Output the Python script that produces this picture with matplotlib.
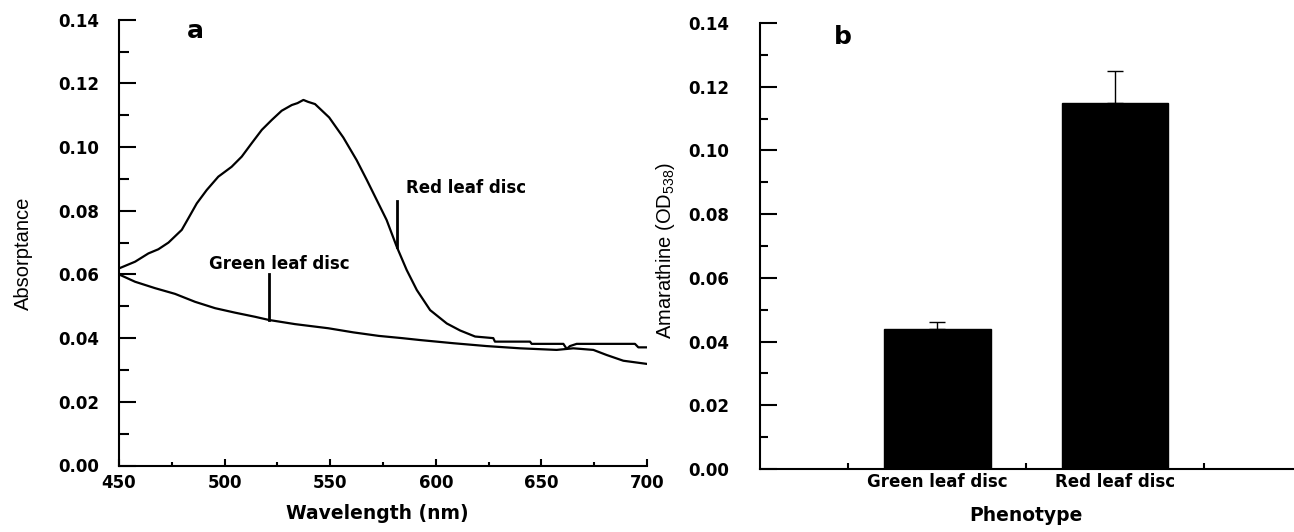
import matplotlib
matplotlib.use('Agg')
import matplotlib.pyplot as plt
from matplotlib.ticker import MultipleLocator, FormatStrFormatter, FixedLocator

# panel a: absorptance spectra
red_nm = [450, 457.6, 463.9, 468.6, 473.4, 479.7, 482.8, 486.8, 491.5, 497.0,
          503.3, 508.1, 512.8, 517.6, 522.3, 527.0, 531.8, 534.5, 537.3, 539.5,
          542.8, 549.5, 556.2, 562.5, 567.3, 572.0, 576.7, 581.5, 586.2, 591.0,
          597.3, 605.2, 611.5, 618.6, 627.2, 628.0, 644.6, 645.4, 660.4, 662.0,
          663.5, 666.7, 694.3, 695.9, 700]
red_abs = [0.0619, 0.0640, 0.0666, 0.0679, 0.0700, 0.0740, 0.0776, 0.0823, 0.0865, 0.0907,
           0.0938, 0.0970, 0.1012, 0.1054, 0.1085, 0.1114, 0.1132, 0.1138, 0.1148, 0.1142,
           0.1135, 0.1093, 0.1030, 0.0959, 0.0897, 0.0834, 0.0771, 0.0687, 0.0614, 0.0551,
           0.0488, 0.0446, 0.0424, 0.0405, 0.0400, 0.0389, 0.0389, 0.0382, 0.0382, 0.0366,
           0.0375, 0.0382, 0.0382, 0.0371, 0.0371]

green_nm = [450, 457.6, 467.0, 476.5, 486.0, 495.5, 504.9, 514.4, 521.0, 533.3,
            549.1, 561.0, 573.0, 584.0, 592.5, 608.3, 624.1, 639.9, 657.2, 665.1,
            674.6, 680.9, 688.8, 700]
green_abs = [0.0600, 0.0577, 0.0557, 0.0539, 0.0514, 0.0494, 0.0480, 0.0467, 0.0457, 0.0444,
             0.0431, 0.0418, 0.0407, 0.0400, 0.0394, 0.0384, 0.0375, 0.0368, 0.0363, 0.0368,
             0.0363, 0.0347, 0.0329, 0.0319]

# panel b: amarathine content
phenotypes = ['Green leaf disc', 'Red leaf disc']
amarathine = [0.044, 0.115]
amarathine_err = [0.002, 0.010]

plt.rcParams['font.family'] = ['DejaVu Sans']
plt.rcParams['font.weight'] = 'bold'
plt.rcParams['mathtext.fontset'] = 'custom'
plt.rcParams['mathtext.rm'] = 'Liberation Sans:weight=normal'
plt.rcParams['mathtext.it'] = 'Liberation Sans:weight=normal'

narrow = ['Liberation Sans Narrow', 'Liberation Sans', 'DejaVu Sans']

fig = plt.figure(figsize=(12.94, 5.32), dpi=100)
ax1 = fig.add_axes([0.092, 0.125, 0.408, 0.838])
ax2 = fig.add_axes([0.587, 0.1184, 0.412, 0.8384])

for ax in (ax1, ax2):
    ax.spines['top'].set_visible(False)
    ax.spines['right'].set_visible(False)
    ax.spines['left'].set_linewidth(1.5)
    ax.spines['bottom'].set_linewidth(1.5)
    ax.set_ylim(0, 0.14)
    ax.yaxis.set_major_locator(MultipleLocator(0.02))
    ax.yaxis.set_minor_locator(MultipleLocator(0.01))
    ax.yaxis.set_major_formatter(FormatStrFormatter('%.2f'))

# ---- panel a ----
ax1.plot(red_nm, red_abs, color='black', linewidth=1.6)
ax1.plot(green_nm, green_abs, color='black', linewidth=1.6)
ax1.set_xlim(450, 700)
ax1.xaxis.set_major_locator(MultipleLocator(50))
ax1.xaxis.set_minor_locator(MultipleLocator(25))
ax1.tick_params(axis='y', which='major', direction='in', length=12, width=1.5,
                labelsize=12, pad=14)
ax1.tick_params(axis='y', which='minor', direction='in', length=7, width=1.5)
ax1.tick_params(axis='x', which='major', direction='in', length=5, width=1.5,
                labelsize=12, pad=6)
ax1.tick_params(axis='x', which='minor', direction='in', length=3, width=1.5)

# pointer lines and labels
ax1.plot([521, 521], [0.0601, 0.0457], color='black', linewidth=2)
ax1.plot([581.5, 581.5], [0.0831, 0.0687], color='black', linewidth=2)
ax1.text(525.7, 0.0633, 'Green leaf disc', ha='center', va='center', fontsize=12)
ax1.text(614.2, 0.0872, 'Red leaf disc', ha='center', va='center', fontsize=12)
ax1.text(0.144, 0.975, 'a', transform=ax1.transAxes, ha='center', va='center',
         fontsize=18)

ax1.set_xlabel('Wavelength (nm)', fontsize=13.5, fontweight='bold')
ax1.xaxis.set_label_coords(0.49, -0.107)
ax1.xaxis.label.set_verticalalignment('center')
ax1.set_ylabel('Absorptance', fontsize=14.5, fontweight='normal', family=narrow)
ax1.yaxis.set_label_coords(-0.182, 0.475)
ax1.yaxis.label.set_verticalalignment('center')

# ---- panel b ----
xpos = [1, 2]
ax2.bar(xpos, amarathine, width=0.6, color='black', edgecolor='black')
ax2.errorbar(xpos, amarathine, yerr=[[0, 0], amarathine_err], fmt='none',
             ecolor='black', elinewidth=1, capsize=6, capthick=1)
ax2.set_xlim(0, 3)
ax2.set_xticks(xpos)
ax2.set_xticklabels(phenotypes)
ax2.xaxis.set_minor_locator(FixedLocator([0.5, 1.5, 2.5]))
ax2.tick_params(axis='x', which='major', length=0, labelsize=12, pad=3)
ax2.tick_params(axis='x', which='minor', direction='in', length=4, width=1.5)
ax2.tick_params(axis='y', which='major', direction='in', length=12, width=1.5,
                labelsize=12, pad=22)
ax2.tick_params(axis='y', which='minor', direction='in', length=6, width=1.5)
ax2.text(0.156, 0.968, 'b', transform=ax2.transAxes, ha='center', va='center',
         fontsize=18)

ax2.set_xlabel('Phenotype', fontsize=13.5, fontweight='bold')
ax2.xaxis.set_label_coords(0.5, -0.105)
ax2.xaxis.label.set_verticalalignment('center')
ax2.set_ylabel('Amarathine (OD$_{538}$)', fontsize=14.5, fontweight='normal', family=narrow)
ax2.yaxis.set_label_coords(-0.176, 0.49)
ax2.yaxis.label.set_verticalalignment('center')

fig.savefig('out.png', dpi=100)
